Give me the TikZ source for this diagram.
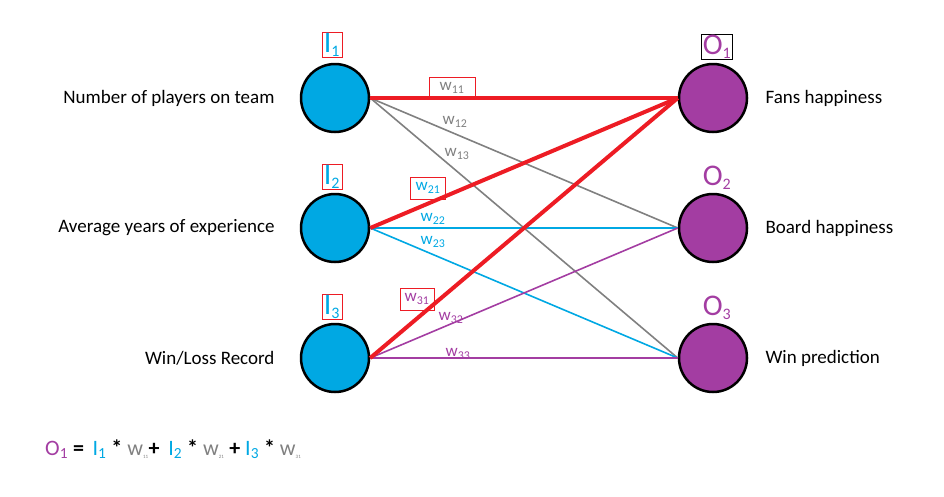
\documentclass[tikz,border=0pt]{standalone}
\usepackage{fontspec}
\setmainfont{Carlito}
\definecolor{cin}{HTML}{00A8E3}
\definecolor{cout}{HTML}{A33DA2}
\definecolor{cred}{HTML}{ED1C24}
\definecolor{cgr}{HTML}{808080}
\begin{document}
\begin{tikzpicture}[x=1pt,y=-1pt,
 inn/.style={circle,draw=black,line width=2.5pt,fill=cin,minimum size=68pt,inner sep=0},
 outn/.style={circle,draw=black,line width=2.5pt,fill=cout,minimum size=68pt,inner sep=0},
 txt/.style={font=\fontsize{19}{21}\selectfont},
 big/.style={font=\fontsize{30}{32}\selectfont,inner sep=1pt},
 bx/.style={draw=cred,line width=0.8pt},
 wl/.style={font=\fontsize{17}{18}\selectfont,inner sep=1pt},
 e/.style={line width=1.6pt}, th/.style={line width=4pt,cred}]
\useasboundingbox (0,0) rectangle (944,496);
\node[inn] (i1) at (335,98) {};
\node[inn] (i2) at (335,228) {};
\node[inn] (i3) at (335,358) {};
\node[outn] (o1) at (713,98) {};
\node[outn] (o2) at (713,228) {};
\node[outn] (o3) at (713,358) {};
\node[big,bx,text=cin,minimum width=20pt] (l1) at (332,45) {I\textsubscript{\fontsize{16}{16}\selectfont 1}};
\node[big,bx,text=cin,minimum width=20pt] (l2) at (332,177) {I\textsubscript{\fontsize{16}{16}\selectfont 2}};
\node[big,bx,text=cin,minimum width=20pt] (l3) at (332,307) {I\textsubscript{\fontsize{16}{16}\selectfont 3}};
\node[big,draw=black,line width=0.6pt,text=cout] (m1) at (717,47) {O\textsubscript{\fontsize{16}{16}\selectfont 1}};
\node[big,text=cout] (m2) at (717,178) {O\textsubscript{\fontsize{16}{16}\selectfont 2}};
\node[big,text=cout] (m3) at (717,308) {O\textsubscript{\fontsize{16}{16}\selectfont 3}};
\node[txt,anchor=east] (t1) at (278,98) {Number of players on team};
\node[txt,anchor=east] (t2) at (278,228) {Average years of experience};
\node[txt,anchor=east] (t3) at (278,358) {Win/Loss Record};
\node[txt,anchor=west] (r1) at (762,98) {Fans happiness};
\node[txt,anchor=west] (r2) at (762,228) {Board happiness};
\node[txt,anchor=west] (r3) at (762,358) {Win prediction};
\draw[e,cgr] (i1.east) -- (o2.west);
\draw[e,cgr] (i1.east) -- (o3.west);
\draw[e,cin] (i2.east) -- (o2.west);
\draw[e,cin] (i2.east) -- (o3.west);
\draw[e,cout] (i3.east) -- (o2.west);
\draw[e,cout] (i3.east) -- (o3.west);
\draw[th] (i1.east) -- (o1.west);
\draw[th] (i2.east) -- (o1.west);
\draw[th] (i3.east) -- (o1.west);
\node[wl,text=cgr,bx,minimum width=46pt,minimum height=22pt] (w11) at (452,88) {w\textsubscript{11}};
\node[wl,text=cgr] (w12) at (455,122) {w\textsubscript{12}};
\node[wl,text=cgr] (w13) at (457,154) {w\textsubscript{13}};
\node[wl,text=cin,bx,minimum width=35pt,minimum height=22pt] (w21) at (428,188) {w\textsubscript{21}};
\node[wl,text=cin] (w22) at (433,219) {w\textsubscript{22}};
\node[wl,text=cin] (w23) at (433,242) {w\textsubscript{23}};
\node[wl,text=cout,bx,minimum width=34pt,minimum height=22pt] (w31) at (417,299) {w\textsubscript{31}};
\node[wl,text=cout] (w32) at (451,318) {w\textsubscript{32}};
\node[wl,text=cout] (w33) at (458,354) {w\textsubscript{33}};
\node[anchor=west,font=\fontsize{22}{24}\selectfont\bfseries,inner sep=0] (f) at (45,449) {\textcolor{cout}{\mdseries O\textsubscript{1}} = \,\textcolor{cin}{\mdseries I\textsubscript{1}} * \textcolor{cgr}{\mdseries w\textsubscript{\tiny 11}}+ \,\textcolor{cin}{\mdseries I\textsubscript{2}} * \textcolor{cgr}{\mdseries w\textsubscript{\tiny 21}} + \textcolor{cin}{\mdseries I\textsubscript{3}} * \textcolor{cgr}{\mdseries w\textsubscript{\tiny 31}}};
\end{tikzpicture}
\end{document}
